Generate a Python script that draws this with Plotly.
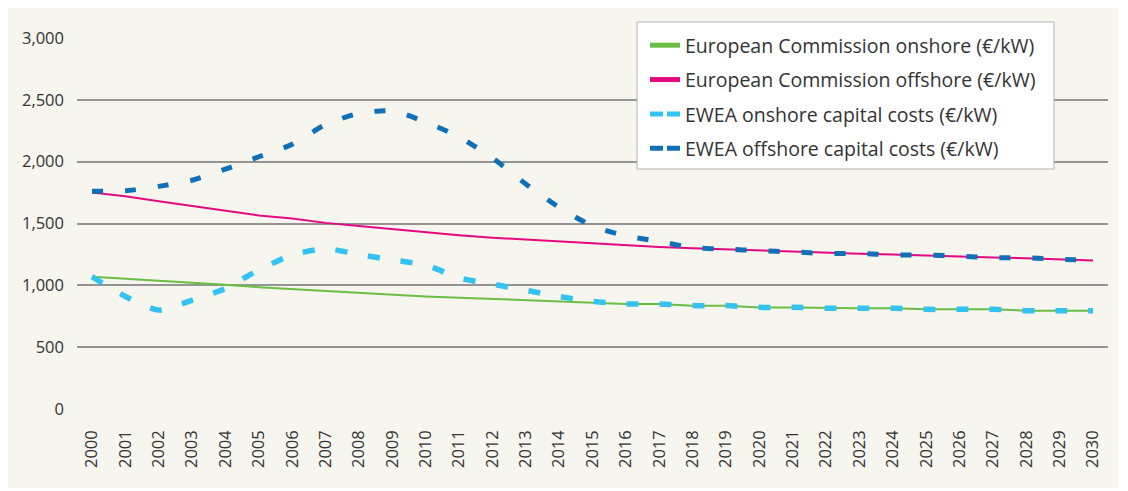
import plotly.graph_objects as go

years = list(range(2000, 2031))

ec_onshore = [1070, 1055, 1040, 1020, 1005, 985, 970, 955, 935, 925, 910,
              900, 890, 885, 870, 860, 850, 850, 834, 834, 820, 820, 814,
              814, 814, 806, 806, 806, 795, 795, 795]
ec_offshore = [1750, 1720, 1680, 1640, 1600, 1565, 1540, 1505, 1480, 1455, 1425,
               1405, 1385, 1370, 1350, 1335, 1320, 1310, 1300, 1290, 1280, 1270,
               1260, 1255, 1250, 1240, 1235, 1225, 1220, 1210, 1200]
ewea_onshore = [1070, 910, 800, 880, 975, 1125, 1245, 1295, 1250, 1205, 1165,
                1060, 1010, 960, 910, 870, 850, 850, 836, 836, 822, 822, 815,
                815, 815, 806, 806, 806, 795, 795, 795]
ewea_offshore = [1760, 1765, 1800, 1850, 1940, 2040, 2140, 2300, 2390, 2410, 2320,
                 2200, 2030, 1820, 1630, 1480, 1400, 1355, 1305, 1292, 1281, 1270,
                 1258, 1258, 1246, 1244, 1236, 1224, 1222, 1211, 1205]

names = ["European Commission onshore (€/kW)",
         "European Commission offshore (€/kW)",
         "EWEA onshore capital costs (€/kW)",
         "EWEA offshore capital costs (€/kW)"]
colors = ["#6cbd45", "#e5097f", "#33c2f1", "#0f70b8"]
y_ticks = [0, 500, 1000, 1500, 2000, 2500, 3000]
y_tick_text = ["0", "500", "1,000", "1,500", "2,000", "2,500", "3,000"]

series = [ec_onshore, ec_offshore, ewea_onshore, ewea_offshore]
line_styles = [
    dict(width=2),
    dict(width=2),
    dict(width=5.5, dash="12px,21px", shape="spline", smoothing=0.7),
    dict(width=5, dash="11px,22px", shape="spline", smoothing=0.7),
]
legend_styles = [
    dict(width=5),
    dict(width=5),
    dict(width=5, dash="13px,4px"),
    dict(width=5, dash="13px,4px"),
]

fig = go.Figure()
# data lines (no legend entries)
for vals, name, col, st in zip(series, names, colors, line_styles):
    fig.add_trace(go.Scatter(x=years, y=vals, name=name, mode="lines",
                             line=dict(color=col, **st), showlegend=False,
                             legendgroup=name))
# legend-only entries with thicker symbols
for name, col, st in zip(names, colors, legend_styles):
    fig.add_trace(go.Scatter(x=[None], y=[None], name=name, mode="lines",
                             line=dict(color=col, **st), showlegend=True,
                             legendgroup=name, hoverinfo="skip"))

bg = "#f6f5ee"

# legend frame
fig.add_shape(type="rect", xref="paper", yref="paper",
              x0=0.5432, x1=0.9476, y0=0.6469, y1=1.0431,
              fillcolor="white", line=dict(color="#b5b5b5", width=1),
              layer="above")

fig.update_layout(
    width=1110, height=480,
    margin=dict(l=69, r=10, t=30, b=79),
    paper_bgcolor=bg,
    plot_bgcolor=bg,
    font=dict(family="Open Sans, Liberation Sans, Arial, sans-serif", color="#333333"),
    showlegend=True,
    legend=dict(x=0.5509, y=1.0323, xanchor="left", yanchor="top",
                bgcolor="rgba(0,0,0,0)", borderwidth=0,
                font=dict(size=19.5, color="#333333"), itemwidth=30,
                tracegroupgap=6, traceorder="grouped"),
    xaxis=dict(range=[1999.55, 2030.45], tickmode="array", tickvals=years,
               ticktext=[str(y) for y in years], tickangle=-90,
               showgrid=False, zeroline=False, showline=False,
               ticks="", ticklabelstandoff=17,
               tickfont=dict(size=16.5, color="#333333")),
    yaxis=dict(range=[0, 3000], tickmode="array", tickvals=y_ticks,
               ticktext=y_tick_text, showgrid=True, gridcolor="#949494",
               gridwidth=1.5, zeroline=False, showline=False, ticks="",
               ticklabelstandoff=12, tickfont=dict(size=16.5, color="#333333")),
)

fig.write_html("out.html")
